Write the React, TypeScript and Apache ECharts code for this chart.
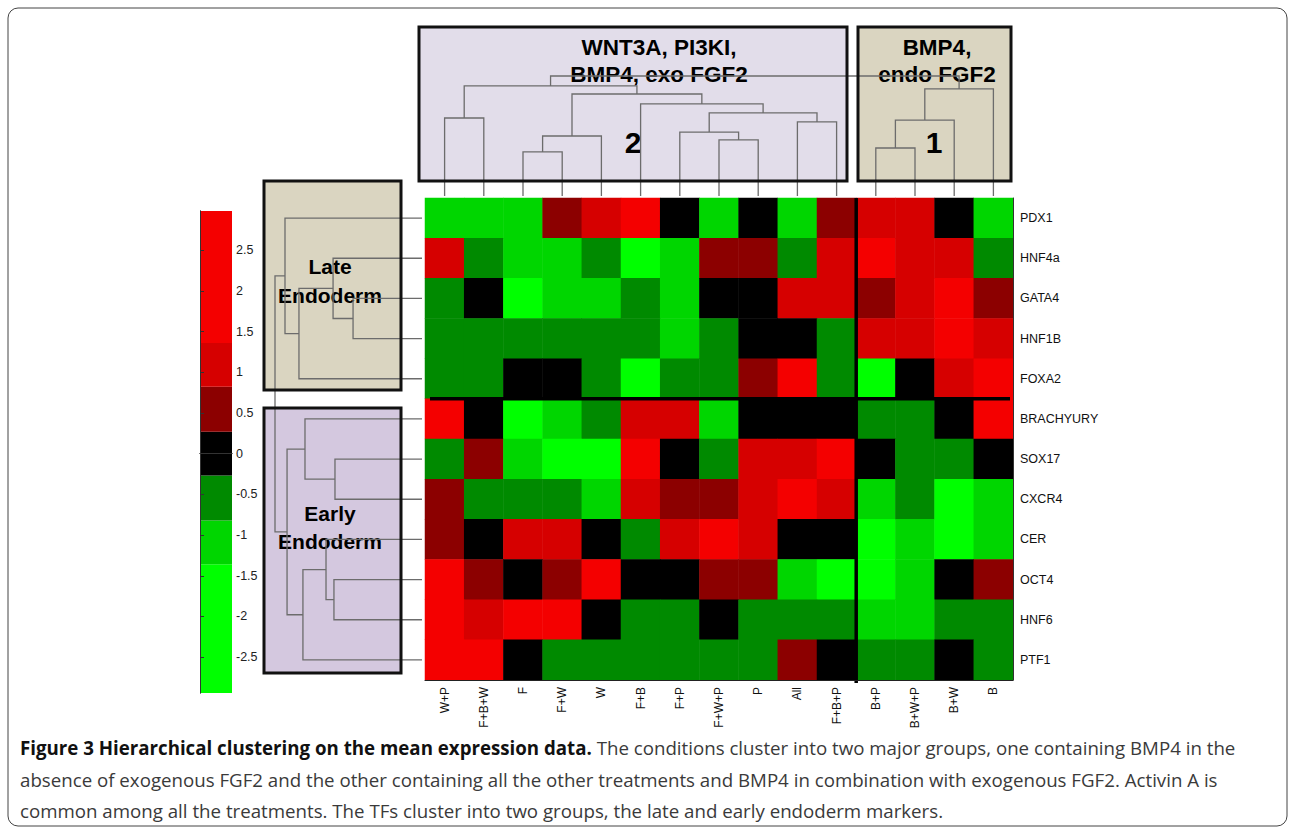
import React, { useEffect, useRef } from 'react';
import * as echarts from 'echarts';

// ---------- data ----------
const conditions = ['W+P', 'F+B+W', 'F', 'F+W', 'W', 'F+B', 'F+P', 'F+W+P', 'P', 'All', 'F+B+P', 'B+P', 'B+W+P', 'B+W', 'B'];
const genes = ['PDX1', 'HNF4a', 'GATA4', 'HNF1B', 'FOXA2', 'BRACHYURY', 'SOX17', 'CXCR4', 'CER', 'OCT4', 'HNF6', 'PTF1'];

// mean expression (rows = genes, columns = conditions in the order above)
const PDX1 = [-1.1, -1.1, -1.1, 0.55, 1.1, 2, 0, -1.1, 0, -1.1, 0.55, 1.1, 1.1, 0, -1.1];
const HNF4a = [1.1, -0.55, -1.1, -1.1, -0.55, -2, -1.1, 0.55, 0.55, -0.55, 1.1, 2, 1.1, 1.1, -0.55];
const GATA4 = [-0.55, 0, -2, -1.1, -1.1, -0.55, -1.1, 0, 0, 1.1, 1.1, 0.55, 1.1, 2, 0.55];
const HNF1B = [-0.55, -0.55, -0.55, -0.55, -0.55, -0.55, -1.1, -0.55, 0, 0, -0.55, 1.1, 1.1, 2, 1.1];
const FOXA2 = [-0.55, -0.55, 0, 0, -0.55, -2, -0.55, -0.55, 0.55, 2, -0.55, -2, 0, 1.1, 2];
const BRACHYURY = [2, 0, -2, -1.1, -0.55, 1.1, 1.1, -1.1, 0, 0, 0, -0.55, -0.55, 0, 2];
const SOX17 = [-0.55, 0.55, -1.1, -2, -2, 2, 0, -0.55, 1.1, 1.1, 2, 0, -0.55, -0.55, 0];
const CXCR4 = [0.55, -0.55, -0.55, -0.55, -1.1, 1.1, 0.55, 0.55, 1.1, 2, 1.1, -1.1, -0.55, -2, -1.1];
const CER = [0.55, 0, 1.1, 1.1, 0, -0.55, 1.1, 2, 1.1, 0, 0, -2, -1.1, -2, -1.1];
const OCT4 = [2, 0.55, 0, 0.55, 2, 0, 0, 0.55, 0.55, -1.1, -2, -2, -1.1, 0, 0.55];
const HNF6 = [2, 1.1, 2, 2, 0, -0.55, -0.55, 0, -0.55, -0.55, -0.55, -1.1, -1.1, -0.55, -0.55];
const PTF1 = [2, 2, 0, -0.55, -0.55, -0.55, -0.55, -0.55, -0.55, 0.55, 0, -0.55, -0.55, 0, -0.55];
const expression = [PDX1, HNF4a, GATA4, HNF1B, FOXA2, BRACHYURY, SOX17, CXCR4, CER, OCT4, HNF6, PTF1];

// colour scale (discrete levels)
const colorEdges = [-3, -1.36, -0.82, -0.27, 0.27, 0.82, 1.36, 3];
const colorList = ['#00FF00', '#00D600', '#008A00', '#000000', '#8C0000', '#D60000', '#F40000'];
const colorbarTicks = [-2.5, -2, -1.5, -1, -0.5, 0, 0.5, 1, 1.5, 2, 2.5];

// hierarchical clustering links: [childA, childB, height]; leaves are 0..n-1, new nodes n, n+1, ...
const columnLinks = [
  [0, 1, 0.65], [2, 3, 0.367], [16, 4, 0.5], [7, 8, 0.467], [6, 18, 0.533], [9, 10, 0.617],
  [19, 20, 0.692], [5, 21, 0.767], [17, 22, 0.85], [15, 23, 0.917],
  [11, 12, 0.4], [25, 13, 0.633], [26, 14, 0.892], [24, 27, 1.0],
];
const rowLinks = [
  [2, 3, 0.469], [1, 12, 0.605], [13, 4, 0.837], [0, 14, 0.932],
  [6, 7, 0.592], [5, 16, 0.796], [9, 10, 0.599], [8, 18, 0.653], [19, 11, 0.81], [17, 20, 0.918],
  [15, 21, 1.0],
];
const columnGroupSize = 11; // cluster 2 | cluster 1
const rowGroupSize = 5; // late | early endoderm

const captionBold = 'Figure 3 Hierarchical clustering on the mean expression data.';
const captionLines = [
  ' The conditions cluster into two major groups, one containing BMP4 in the',
  'absence of exogenous FGF2 and the other containing all the other treatments and BMP4 in combination with exogenous FGF2. Activin A is',
  'common among all the treatments. The TFs cluster into two groups, the late and early endoderm markers.',
];

// ---------- helpers ----------
function buildDendro(links: number[][], nLeaves: number) {
  const pos: number[] = [];
  const hgt: number[] = [];
  for (let i = 0; i < nLeaves; i++) {
    pos[i] = i;
    hgt[i] = 0;
  }
  return links.map(([a, b, h], k) => {
    const id = nLeaves + k;
    pos[id] = (pos[a] + pos[b]) / 2;
    hgt[id] = h;
    return [pos[a], hgt[a], pos[b], hgt[b], h];
  });
}

const LINE = '#6c6c6c';
const SANS = '"Liberation Sans", Arial, Helvetica, sans-serif';
const CAP = '"Open Sans", sans-serif';
const CAP_SIZE = 18.7;

export default function App() {
  const ref = useRef<HTMLDivElement>(null);

  useEffect(() => {
    if (!ref.current) return;
    const chart = echarts.init(ref.current, undefined, { renderer: 'svg' });

    const heatData: number[][] = [];
    expression.forEach((row, r) => row.forEach((v, c) => heatData.push([c, r, v])));

    const pieces: any[] = colorList.map((color, i) => ({ gte: colorEdges[i], lt: colorEdges[i + 1], color }));
    pieces[pieces.length - 1] = { gte: colorEdges[colorEdges.length - 2], lte: colorEdges[colorEdges.length - 1], color: colorList[colorList.length - 1] };

    const colorbarData = colorList.map((_, i) => [colorEdges[i], colorEdges[i + 1], i]);

    const colDendro = buildDendro(columnLinks, conditions.length);
    const rowDendro = buildDendro(rowLinks, genes.length);

    const hidden = { show: false };
    const box = (x: number, y: number, w: number, h: number, fill: string) => [
      { type: 'rect', z: 0, shape: { x, y, width: w, height: h }, style: { fill } },
      { type: 'rect', z: 20, shape: { x, y, width: w, height: h }, style: { fill: 'none', stroke: '#111', lineWidth: 3 } },
    ];
    const boldText = (x: number, y: number, text: string, size: number, lh = 28) => ({
      type: 'text', z: 1, x, y,
      style: { text, fill: '#000', font: `bold ${size}px ${SANS}`, textAlign: 'center', textVerticalAlign: 'middle', lineHeight: lh },
    });

    const option: any = {
      animation: false,
      backgroundColor: '#fff',
      grid: [
        { left: 425, top: 198, width: 588, height: 482 }, // heatmap
        { left: 425, top: 198, width: 588, height: 482 }, // separators overlay
        { left: 425, top: 76, width: 588, height: 120 }, // column dendrogram
        { left: 275, top: 198, width: 147, height: 482 }, // row dendrogram
        { left: 200, top: 211, width: 32, height: 482 }, // colour bar
      ],
      xAxis: [
        {
          type: 'category', gridIndex: 0, data: conditions, position: 'bottom', z: 5,
          axisLine: { lineStyle: { color: '#222', width: 1 } }, axisTick: hidden, splitLine: hidden,
          axisLabel: { rotate: 90, margin: 7, fontSize: 12, color: '#111', fontFamily: SANS, interval: 0 },
        },
        { type: 'value', gridIndex: 1, min: -0.5, max: 14.5, show: false },
        { type: 'value', gridIndex: 2, min: -0.5, max: 14.5, show: false },
        { type: 'value', gridIndex: 3, min: 0, max: 1, inverse: true, show: false },
        {
          type: 'value', gridIndex: 4, min: 0, max: 1, position: 'bottom', z: 5,
          axisLine: { show: true, lineStyle: { color: '#333' } }, axisTick: hidden, axisLabel: hidden, splitLine: hidden,
        },
        {
          type: 'value', gridIndex: 4, min: 0, max: 1, position: 'top', z: 5,
          axisLine: { show: true, lineStyle: { color: '#333' } }, axisTick: hidden, axisLabel: hidden, splitLine: hidden,
        },
      ],
      yAxis: [
        {
          type: 'category', gridIndex: 0, data: genes, inverse: true, position: 'right', z: 5,
          axisLine: { show: true, lineStyle: { color: '#333' } }, axisTick: hidden, splitLine: hidden,
          axisLabel: { margin: 7, fontSize: 12.5, color: '#111', fontFamily: SANS },
        },
        { type: 'value', gridIndex: 1, min: -0.5, max: 11.5, inverse: true, show: false },
        { type: 'value', gridIndex: 2, min: 0, max: 1, show: false },
        { type: 'value', gridIndex: 3, min: -0.5, max: 11.5, inverse: true, show: false },
        {
          type: 'value', gridIndex: 4, min: -2.94, max: 2.98, position: 'right', z: 5,
          axisLine: { show: true, lineStyle: { color: '#333' } },
          axisTick: { show: true, customValues: colorbarTicks, length: 4, lineStyle: { color: '#333' } },
          axisLabel: { customValues: colorbarTicks, margin: 4, fontSize: 12.5, color: '#222', fontFamily: SANS },
          splitLine: hidden,
        },
        {
          type: 'value', gridIndex: 4, min: -2.94, max: 2.98, position: 'left', z: 5,
          axisLine: { show: true, lineStyle: { color: '#333' } },
          axisTick: { show: true, inside: true, customValues: colorbarTicks, length: 4, lineStyle: { color: '#333' } },
          axisLabel: hidden, splitLine: hidden,
        },
      ],
      visualMap: {
        type: 'piecewise', show: false, seriesIndex: 0, dimension: 2, pieces,
      },
      series: [
        {
          type: 'heatmap', xAxisIndex: 0, yAxisIndex: 0, data: heatData,
          itemStyle: { borderWidth: 0 }, emphasis: { disabled: true },
        },
        {
          type: 'custom', xAxisIndex: 1, yAxisIndex: 1, z: 4, silent: true,
          data: [[columnGroupSize - 0.5, rowGroupSize - 0.5]],
          renderItem: (params: any, api: any) => {
            const vx = api.value(0);
            const vy = api.value(1);
            const top = api.coord([vx, -0.5]);
            const bot = api.coord([vx, 11.5]);
            const l = api.coord([-0.5, vy]);
            const r = api.coord([14.5, vy]);
            return {
              type: 'group',
              children: [
                { type: 'line', shape: { x1: top[0], y1: top[1], x2: bot[0], y2: bot[1] + 3 }, style: { stroke: '#000', lineWidth: 3.5 } },
                { type: 'line', shape: { x1: l[0] + 5, y1: l[1], x2: r[0] - 3, y2: r[1] }, style: { stroke: '#000', lineWidth: 3.5 } },
              ],
            };
          },
        },
        {
          type: 'custom', xAxisIndex: 2, yAxisIndex: 2, z: 3, silent: true, data: colDendro,
          renderItem: (params: any, api: any) => {
            const p1 = api.value(0), h1 = api.value(1), p2 = api.value(2), h2 = api.value(3), h = api.value(4);
            const pts = [[p1, h1], [p1, h], [p2, h], [p2, h2]].map((v) => api.coord(v));
            return { type: 'polyline', shape: { points: pts }, style: { stroke: LINE, lineWidth: 1.3, fill: 'none' } };
          },
        },
        {
          type: 'custom', xAxisIndex: 3, yAxisIndex: 3, z: 3, silent: true, data: rowDendro,
          renderItem: (params: any, api: any) => {
            const p1 = api.value(0), h1 = api.value(1), p2 = api.value(2), h2 = api.value(3), h = api.value(4);
            const pts = [[h1, p1], [h, p1], [h, p2], [h2, p2]].map((v) => api.coord(v));
            return { type: 'polyline', shape: { points: pts }, style: { stroke: LINE, lineWidth: 1.3, fill: 'none' } };
          },
        },
        {
          type: 'custom', xAxisIndex: 4, yAxisIndex: 4, z: 2, silent: true, clip: true, data: colorbarData,
          renderItem: (params: any, api: any) => {
            const lo = api.value(0), hi = api.value(1), idx = api.value(2);
            const a = api.coord([0, hi]);
            const b = api.coord([1, lo]);
            return { type: 'rect', shape: { x: a[0], y: a[1], width: b[0] - a[0], height: b[1] - a[1] }, style: { fill: colorList[idx] } };
          },
        },
      ],
      graphic: [
        { type: 'rect', z: 0, shape: { x: 8, y: 8, width: 1279, height: 818, r: 10 }, style: { fill: 'none', stroke: '#444', lineWidth: 1 } },
        ...box(419, 27, 428, 154, '#E2DDEA'),
        ...box(858, 27, 153, 154, '#DAD5C1'),
        ...box(264, 181, 137, 209, '#DAD5C1'),
        ...box(264, 408, 137, 265, '#D4C8DF'),
        boldText(659, 61, 'WNT3A, PI3KI,\nBMP4, exo FGF2', 22.5, 27),
        boldText(937, 61, 'BMP4,\nendo FGF2', 22.5, 27),
        boldText(633, 142, '2', 30),
        boldText(934, 142, '1', 30),
        boldText(330, 281, 'Late\nEndoderm', 21, 29),
        boldText(330, 527, 'Early\nEndoderm', 21, 28),
        {
          type: 'text', z: 1, x: 20, y: 747,
          style: {
            text: `{b|${captionBold}}{r|${captionLines[0]}}`,
            textVerticalAlign: 'middle',
            rich: {
              b: { font: `bold ${CAP_SIZE}px ${CAP}`, fill: '#111' },
              r: { font: `${CAP_SIZE}px ${CAP}`, fill: '#3a3a3a' },
            },
          },
        },
        { type: 'text', z: 1, x: 20, y: 779, style: { text: captionLines[1], font: `${CAP_SIZE}px ${CAP}`, fill: '#3a3a3a', textVerticalAlign: 'middle' } },
        { type: 'text', z: 1, x: 20, y: 810, style: { text: captionLines[2], font: `${CAP_SIZE}px ${CAP}`, fill: '#3a3a3a', textVerticalAlign: 'middle' } },
      ],
    };

    chart.setOption(option);
    return () => chart.dispose();
  }, []);

  return <div ref={ref} style={{ position: 'fixed', left: 0, top: 0, width: 1290, height: 829 }} />;
}
